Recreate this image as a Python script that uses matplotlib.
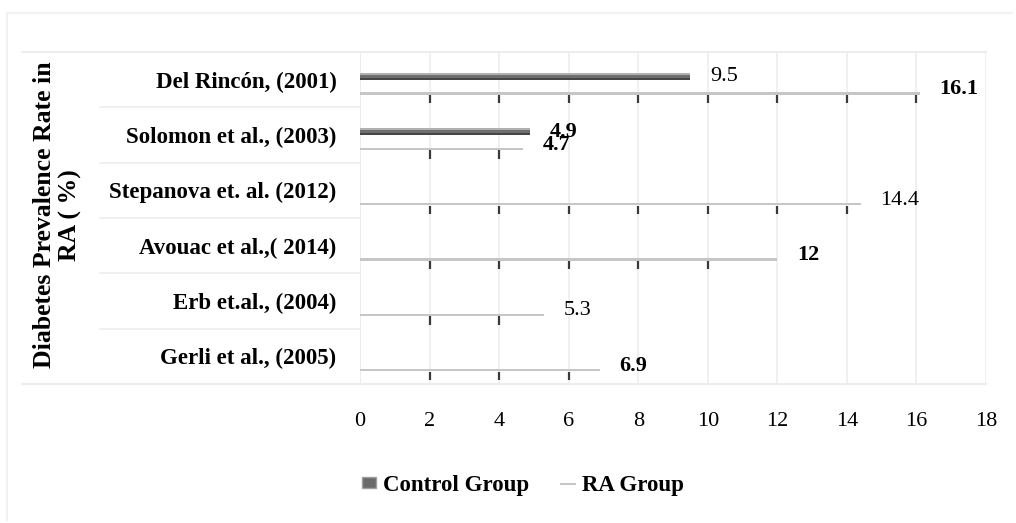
import numpy as np
import matplotlib
matplotlib.use("Agg")
import matplotlib.pyplot as plt
from matplotlib.lines import Line2D
from matplotlib.patches import Rectangle

plt.rcParams['font.family'] = ['Liberation Serif', 'DejaVu Serif']

studies = ["Del Rincón, (2001)", "Solomon et al., (2003)", "Stepanova et. al. (2012)",
           "Avouac et al.,( 2014)", "Erb et.al., (2004)", "Gerli et al., (2005)"]
control_group = [9.5, 4.9, np.nan, np.nan, np.nan, np.nan]
ra_group = [16.1, 4.7, 14.4, 12, 5.3, 6.9]
x_ticks = [0, 2, 4, 6, 8, 10, 12, 14, 16, 18]

# label weights as they appear on the figure
control_weights = ["normal", "bold", None, None, None, None]
ra_weights = ["bold", "bold", "normal", "bold", "normal", "bold"]

GRID = "#ededed"

fig = plt.figure(figsize=(10.16, 5.23), dpi=100)
ax = fig.add_axes([360 / 1016, 1 - 384 / 523, 626 / 1016, 332 / 523])

y = np.arange(len(studies))
ctrl_y = y - 0.06
ra_y = y + 0.25

# control bars: a dark base with lighter overlapping strips for the shading
ctrl_vals = np.nan_to_num(np.array(control_group, dtype=float))
ax.barh(ctrl_y, ctrl_vals, height=0.13, color="#454545", lw=0, zorder=3)
ax.barh(ctrl_y - 0.02, ctrl_vals, height=0.09, color="#6e6e6e", lw=0, zorder=3)
ax.barh(ctrl_y - 0.045, ctrl_vals, height=0.04, color="#b0b0b0", lw=0, zorder=3)

# RA bars are drawn as thin light strips
ax.barh(ra_y, ra_group, height=0.045, color="#c6c6c6", lw=0, zorder=3)

# short dark marks where the gridlines pass under each RA bar
for yi, v in zip(ra_y, ra_group):
    for gx in x_ticks[1:]:
        if gx < v:
            ax.plot([gx, gx], [yi + 0.03, yi + 0.18], color="#3a3a3a", lw=1.6,
                    solid_capstyle="butt", zorder=2)

# value labels
for yi, v, w in zip(ctrl_y, control_group, control_weights):
    if not np.isnan(v):
        ax.annotate(f"{v:g}", (v, yi), xytext=(14, 0), textcoords="offset points",
                    va="center", ha="left", fontsize=16, fontweight=w, zorder=4)
for yi, v, w in zip(ra_y, ra_group, ra_weights):
    ax.annotate(f"{v:g}", (v, yi), xytext=(14, 3), textcoords="offset points",
                va="center", ha="left", fontsize=16, fontweight=w, zorder=4)

ax.set_xlim(0, 18)
ax.set_ylim(5.5, -0.5)
ax.set_xticks(x_ticks)
ax.set_xticklabels([str(t) for t in x_ticks], fontsize=16)
ax.set_yticks(y)
ax.set_yticklabels(studies, fontsize=16.5, fontweight="bold")
ax.tick_params(axis="x", length=0, pad=20)
ax.tick_params(axis="y", length=0, pad=17)
ax.grid(axis="x", color=GRID, lw=1.2, zorder=0)
for s in ["top", "right", "bottom"]:
    ax.spines[s].set_visible(False)
ax.spines["left"].set_color(GRID)

ax.set_ylabel("Diabetes Prevalence Rate in\nRA ( %)", fontsize=18.5, fontweight="bold",
              linespacing=1.15)
ax.yaxis.set_label_coords((82 - 360) / 626, 0.51)

# separators in the category label area
for b in np.arange(0.5, 5.5, 1.0):
    ax.add_line(Line2D([(100 - 360) / 626, 0], [1 - (b + 0.5) / 6] * 2,
                       transform=ax.transAxes, color=GRID, lw=1.2, clip_on=False))
for yy in [0, 1]:
    ax.add_line(Line2D([(22 - 360) / 626, 1], [yy, yy], transform=ax.transAxes,
                       color=GRID, lw=1.5, clip_on=False))

# faint outer frame of the chart area
fig.add_artist(Line2D([7 / 1016, 7 / 1016], [1 - 13 / 523, 1 - 520 / 523],
                      transform=fig.transFigure, color="#f2f2f2", lw=1.5))
fig.add_artist(Line2D([7 / 1016, 1012 / 1016], [1 - 13 / 523] * 2,
                      transform=fig.transFigure, color="#f2f2f2", lw=1.5))

handles = [Rectangle((0, 0), 1, 1, facecolor="#6a6a6a", edgecolor="#a0a0a0"),
           Line2D([0], [0], color="#c6c6c6", lw=1.5)]
fig.legend(handles, ["Control Group", "RA Group"], loc="center",
           bbox_to_anchor=(523 / 1016, 1 - 485 / 523), ncol=2, frameon=False,
           prop={"size": 16.5, "weight": "bold"}, handlelength=0.6, handleheight=0.35,
           handletextpad=0.3, columnspacing=1.4)

fig.savefig("out.png", dpi=100, facecolor="white")
